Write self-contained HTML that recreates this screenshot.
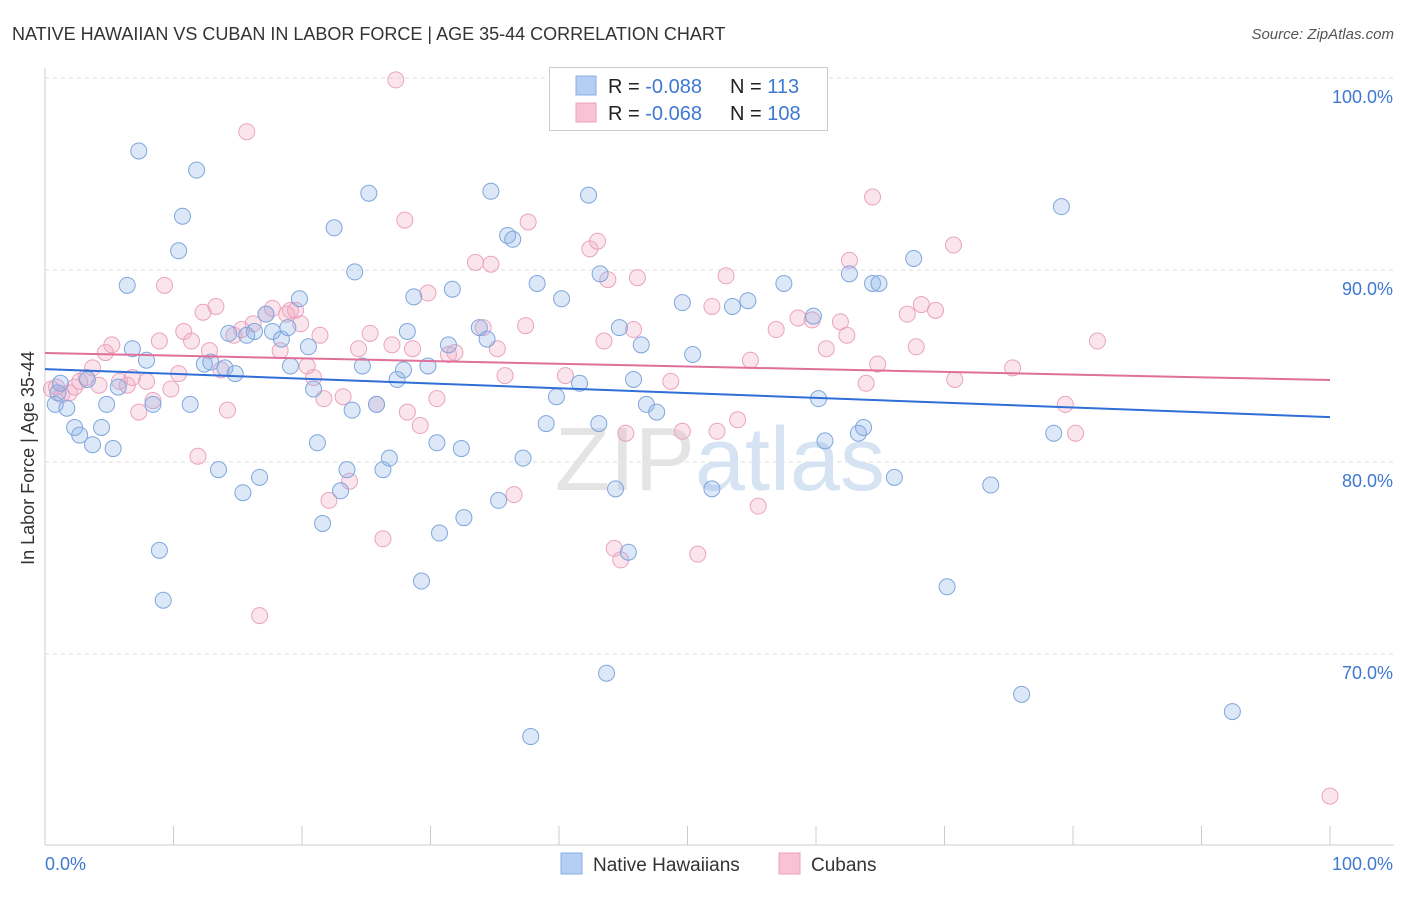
<!DOCTYPE html>
<html><head><meta charset="utf-8"><style>
body{margin:0;background:#fff;font-family:"Liberation Sans",sans-serif;}
svg text{font-family:"Liberation Sans",sans-serif;}
</style></head><body>
<svg id="chart" width="1406" height="892" viewBox="0 0 1406 892">
<text x="12" y="40" font-size="18" fill="#333">NATIVE HAWAIIAN VS CUBAN IN LABOR FORCE | AGE 35-44 CORRELATION CHART</text>
<text x="1394" y="39" font-size="15" fill="#555" font-style="italic" text-anchor="end">Source: ZipAtlas.com</text>
<text transform="translate(34,458) rotate(-90)" font-size="18" fill="#333" text-anchor="middle">In Labor Force | Age 35-44</text>
<g id="grid"></g>
<text x="720" y="490" font-size="90" fill="#e4e4e4" text-anchor="middle" font-family="Liberation Serif">ZIP<tspan fill="#d5e3f3" font-family="Liberation Sans">atlas</tspan></text>
<g id="pts"></g>
<g id="trends"></g>
<g>
<rect x="549.5" y="67.5" width="278" height="63" fill="#fff" stroke="#ccc"/>
<rect x="576" y="76" width="20" height="19" fill="#b4cff3" stroke="#88aee0"/>
<rect x="576" y="103" width="20" height="19" fill="#f8c3d4" stroke="#eaa0bc"/>
<text x="608" y="93" font-size="20" fill="#222">R = <tspan fill="#3f78d0">-0.088</tspan></text>
<text x="730" y="93" font-size="20" fill="#222">N = <tspan fill="#3f78d0"> 113</tspan></text>
<text x="608" y="120" font-size="20" fill="#222">R = <tspan fill="#3f78d0">-0.068</tspan></text>
<text x="730" y="120" font-size="20" fill="#222">N = <tspan fill="#3f78d0">108</tspan></text>
</g>
<g>
<rect x="561" y="853" width="21" height="21" fill="#b4cff3" stroke="#88aee0"/>
<text x="593" y="871" font-size="19" fill="#333">Native Hawaiians</text>
<rect x="779" y="853" width="21" height="21" fill="#f8c3d4" stroke="#eaa0bc"/>
<text x="811" y="871" font-size="19" fill="#333">Cubans</text>
</g>
</svg>
<script>
const yTicks=[100,90,80,70];
const yTickLabels=["100.0%","90.0%","80.0%","70.0%"];
const xTicks=[0,10,20,30,40,50,60,70,80,90,100];
const blueX=[0.8,1.0,1.7,2.3,2.7,3.7,4.4,3.3,4.8,5.3,5.7,6.4,6.8,7.3,7.9,8.4,8.9,9.2,10.4,10.7,11.3,11.8,12.4,12.9,13.5,14.0,14.3,14.8,15.4,15.7,16.3,16.7,17.2,17.7,18.4,18.9,19.1,19.8,20.5,20.9,21.2,21.6,22.5,23.0,23.5,23.9,24.1,24.7,25.2,25.8,26.3,26.8,27.4,27.9,28.2,28.7,29.3,29.8,30.5,30.7,31.4,31.7,32.4,32.6,33.8,34.4,34.7,35.3,36.0,36.4,37.2,37.8,38.3,39.0,39.8,40.2,41.6,42.3,43.1,43.2,43.7,44.4,44.7,45.4,45.8,46.4,46.8,47.6,49.6,50.4,51.9,53.5,54.7,57.5,59.8,60.2,60.7,62.6,63.3,63.7,64.4,64.9,66.1,67.6,70.2,73.6,76.0,78.5,79.1,92.4,59.2,1.2];
const blueY=[83.0,83.6,82.8,81.8,81.4,80.9,81.8,84.3,83.0,80.7,83.9,89.2,85.9,96.2,85.3,83.0,75.4,72.8,91.0,92.8,83.0,95.2,85.1,85.2,79.6,84.9,86.7,84.6,78.4,86.6,86.8,79.2,87.7,86.8,86.4,87.0,85.0,88.5,86.0,83.8,81.0,76.8,92.2,78.5,79.6,82.7,89.9,85.0,94.0,83.0,79.6,80.2,84.3,84.8,86.8,88.6,73.8,85.0,81.0,76.3,86.1,89.0,80.7,77.1,87.0,86.4,94.1,78.0,91.8,91.6,80.2,65.7,89.3,82.0,83.4,88.5,84.1,93.9,82.0,89.8,69.0,78.6,87.0,75.3,84.3,86.1,83.0,82.6,88.3,85.6,78.6,88.1,88.4,89.3,87.6,83.3,81.1,89.8,81.5,81.8,89.3,89.3,79.2,90.6,73.5,78.8,67.9,81.5,93.3,67.0,99.9,84.1];
const pinkX=[0.5,0.9,1.3,1.9,2.3,2.7,3.2,3.7,4.2,4.7,5.2,5.8,6.4,6.8,7.3,7.9,8.4,8.9,9.3,9.8,10.4,10.8,11.4,11.9,12.3,12.8,13.3,13.7,14.2,14.7,15.3,15.7,16.2,16.7,17.2,17.7,18.3,18.8,19.1,19.5,19.9,20.4,20.9,21.4,21.7,22.1,23.2,23.7,24.4,25.3,25.8,26.3,27.0,27.3,28.0,28.2,28.6,29.2,29.8,30.5,31.4,31.9,33.5,34.1,34.7,35.2,35.8,36.5,37.4,37.6,40.5,42.4,43.0,43.5,43.8,44.3,44.8,45.2,45.8,46.1,48.7,49.6,50.8,51.9,52.3,53.0,53.9,54.9,55.5,56.9,58.6,59.7,60.8,61.9,62.4,62.6,63.9,64.4,64.8,67.1,67.8,68.2,69.3,70.7,70.8,75.3,79.4,80.2,81.9,100];
const pinkY=[83.8,83.9,83.5,83.6,83.9,84.2,84.4,84.9,84.0,85.7,86.1,84.2,84.0,84.4,82.6,84.2,83.2,86.3,89.2,83.8,84.6,86.8,86.3,80.3,87.8,85.8,88.1,84.8,82.7,86.6,86.9,97.2,87.2,72.0,87.7,88.0,85.8,87.7,87.9,87.9,87.2,85.0,84.4,86.6,83.3,78.0,83.4,79.0,85.9,86.7,83.0,76.0,86.1,99.9,92.6,82.6,85.9,81.9,88.8,83.3,85.6,85.7,90.4,87.0,90.3,85.9,84.5,78.3,87.1,92.5,84.5,91.1,91.5,86.3,89.5,75.5,74.9,81.5,86.9,89.6,84.2,81.6,75.2,88.1,81.6,89.7,82.2,85.3,77.7,86.9,87.5,87.4,85.9,87.3,86.6,90.5,84.1,93.8,85.1,87.7,86.0,88.2,87.9,91.3,84.3,84.9,83.0,81.5,86.3,62.6];
const blueTrend=[84.84,82.34];
const pinkTrend=[85.68,84.27];

const NS="http://www.w3.org/2000/svg";
const X0=45,X1=1330,YTOP=78,YPX=19.2;
function sx(v){return X0+(X1-X0)*v/100;}
function sy(v){return YTOP+(100-v)*YPX;}
function mk(tag,attrs,parent){const e=document.createElementNS(NS,tag);for(const k in attrs)e.setAttribute(k,attrs[k]);parent.appendChild(e);return e;}
const grid=document.getElementById('grid');
yTicks.forEach((t,i)=>{
  const l=mk('line',{x1:X0,x2:1394,y1:sy(t),y2:sy(t),stroke:'#ddd','stroke-dasharray':'4,4'},grid);
  
  
  const tx=mk('text',{x:1393,y:sy(t)+25,'font-size':18,fill:'#3f78d0','text-anchor':'end'},grid);
  tx.textContent=yTickLabels[i];
  
  
});
const ax=mk('line',{x1:X0,x2:X0,y1:68,y2:845,stroke:'#ccc'},grid);


const bx=mk('line',{x1:X0,x2:1394,y1:845,y2:845,stroke:'#ccc'},grid);


xTicks.forEach(t=>{
  const l=mk('line',{x1:sx(t),x2:sx(t),y1:826,y2:845,stroke:'#ccc'},grid);
  
  
});
const xl=mk('text',{x:45,y:870,'font-size':18,fill:'#3f78d0'},grid);xl.textContent='0.0%';


const xr=mk('text',{x:1393,y:870,'font-size':18,fill:'#3f78d0','text-anchor':'end'},grid);xr.textContent='100.0%';


const pts=document.getElementById('pts');
pinkX.forEach((x,i)=>{
  const c=mk('circle',{cx:sx(x),cy:sy(pinkY[i]),r:8,fill:'rgba(243,170,196,0.3)',stroke:'#eba3bd','stroke-width':1},pts);
  
  
});
blueX.forEach((x,i)=>{
  const c=mk('circle',{cx:sx(x),cy:sy(blueY[i]),r:8,fill:'rgba(140,178,232,0.3)',stroke:'#7fa6dc','stroke-width':1},pts);
  
  
});
const tr=document.getElementById('trends');
const tb=mk('line',{x1:sx(0),y1:sy(blueTrend[0]),x2:sx(100),y2:sy(blueTrend[1]),stroke:'#2f6fd6','stroke-width':2},tr);


const tp=mk('line',{x1:sx(0),y1:sy(pinkTrend[0]),x2:sx(100),y2:sy(pinkTrend[1]),stroke:'#e0709a','stroke-width':2},tr);


</script>
</body></html>
